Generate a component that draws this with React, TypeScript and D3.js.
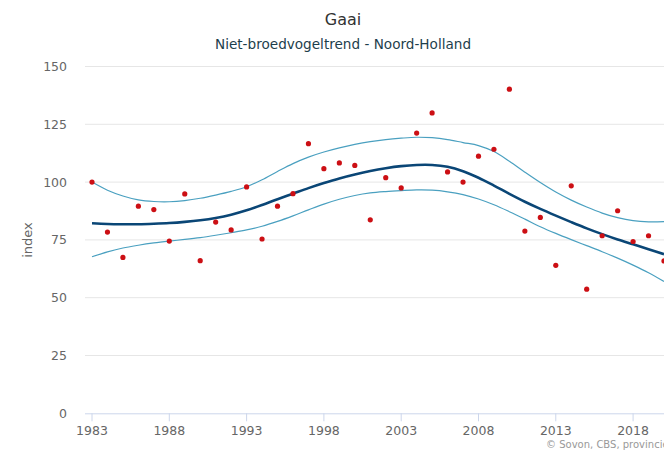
import React from "react";
import * as d3 from "d3";

const years: number[] = d3.range(1983, 2021);
const indexValues: number[] = [
  100, 78.4, 67.4, 89.6, 88.1, 74.5, 94.9, 66.0, 82.7, 79.3,
  97.9, 75.4, 89.6, 95.0, 116.6, 105.8, 108.3, 107.2, 83.7, 101.9,
  97.5, 121.2, 129.9, 104.4, 100.0, 111.2, 114.2, 140.2, 78.8, 84.7,
  64.0, 98.4, 53.7, 76.8, 87.6, 74.3, 76.8, 65.9,
];
const trendValues: number[] = [
  82.2, 81.9, 81.8, 81.8, 82.0, 82.3, 82.8, 83.5, 84.5, 85.9,
  87.8, 90.1, 92.6, 95.0, 97.4, 99.6, 101.6, 103.3, 104.8, 106.0,
  106.9, 107.4, 107.4, 106.6, 104.7, 101.9, 98.5, 94.9, 91.5, 88.4,
  85.5, 82.7, 80.0, 77.5, 75.2, 73.1, 71.0, 68.8,
];
const upperValues: number[] = [
  100, 96.5, 94.0, 92.3, 91.6, 91.5, 92.0, 93.0, 94.4, 96.0,
  98.0, 101.0, 104.6, 108.0, 110.8, 113.0, 114.8, 116.3, 117.5, 118.4,
  119.0, 119.4, 119.2, 118.4, 117.1, 115.8, 113.2, 109.0, 104.3, 99.8,
  95.7, 92.2, 89.2, 86.6, 84.6, 83.3, 82.8, 82.9,
];
const lowerValues: number[] = [
  67.7, 69.8, 71.5, 72.7, 73.7, 74.5, 75.2, 76.0, 77.0, 78.1,
  79.3, 80.9, 83.0, 85.4, 88.0, 90.5, 92.6, 94.2, 95.3, 95.9,
  96.3, 96.6, 96.5, 95.8, 94.6, 92.7, 90.2, 87.2, 84.0, 80.7,
  77.8, 75.1, 72.5, 69.9, 67.1, 64.1, 60.8, 57.0,
];
const yTicks: number[] = [0, 25, 50, 75, 100, 125, 150];
const xTicks: number[] = [1983, 1988, 1993, 1998, 2003, 2008, 2013, 2018];

const W = 664;
const H = 451;
const FONT = "'DejaVu Sans', sans-serif";

export default function App() {
  const plotLeft = 85;
  const plotRight = 700;
  const x = d3.scaleLinear().domain([1983, 2020]).range([92, 664]);
  const y = d3.scaleLinear().domain([0, 150]).range([413.3, 66.5]);

  const line = (vals: number[]) =>
    d3
      .line<number>()
      .x((_, i) => x(years[i]))
      .y((v) => y(v))
      .curve(d3.curveCatmullRom.alpha(0.5))(vals) || "";

  return (
    <svg
      width={W}
      height={H}
      style={{ position: "absolute", left: 0, top: 0, background: "#fff" }}
      fontFamily={FONT}
    >
      <rect x={0} y={0} width={W} height={H} fill="#fff" />
      <text x={343} y={25} textAnchor="middle" fontSize={16} fill="#333">
        Gaai
      </text>
      <text x={343} y={49} textAnchor="middle" fontSize={13.6} fill="#1d3e4c">
        Niet-broedvogeltrend - Noord-Holland
      </text>

      {yTicks.map((t) => (
        <g key={t}>
          {t > 0 && (
            <line
              x1={plotLeft}
              x2={plotRight}
              y1={y(t)}
              y2={y(t)}
              stroke="#e6e6e6"
              strokeWidth={1}
            />
          )}
          <text
            x={67}
            y={y(t) + 4.5}
            textAnchor="end"
            fontSize={12.5}
            fill="#666"
          >
            {t}
          </text>
        </g>
      ))}

      <text
        transform={`translate(32,${240}) rotate(-90)`}
        textAnchor="middle"
        fontSize={13}
        fill="#666"
      >
        index
      </text>

      <line
        x1={plotLeft}
        x2={plotRight}
        y1={y(0) + 0.5}
        y2={y(0) + 0.5}
        stroke="#ccd6eb"
        strokeWidth={1}
      />
      {xTicks.map((t) => (
        <g key={t}>
          <line
            x1={x(t)}
            x2={x(t)}
            y1={y(0)}
            y2={y(0) + 8}
            stroke="#ccd6eb"
            strokeWidth={1}
          />
          <text
            x={x(t)}
            y={435}
            textAnchor="middle"
            fontSize={12.5}
            fill="#666"
          >
            {t}
          </text>
        </g>
      ))}

      <path d={line(upperValues)} fill="none" stroke="#4aa0c0" strokeWidth={1.2} />
      <path d={line(lowerValues)} fill="none" stroke="#4aa0c0" strokeWidth={1.2} />
      <path d={line(trendValues)} fill="none" stroke="#0a4676" strokeWidth={2.6} />

      {indexValues.map((v, i) => (
        <circle key={i} cx={x(years[i])} cy={y(v)} r={2.6} fill="#cc0f14" />
      ))}

      <text x={546} y={448} fontSize={10} fill="#999">
        © Sovon, CBS, provincies
      </text>
    </svg>
  );
}
